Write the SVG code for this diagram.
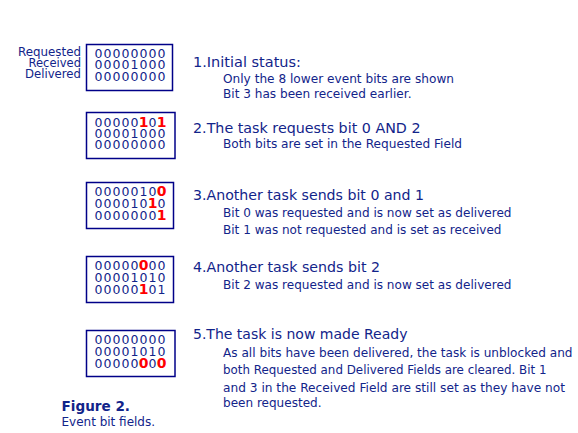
<svg xmlns="http://www.w3.org/2000/svg" width="578" height="433" viewBox="0 0 578 433">
<style>
text{font-family:"DejaVu Sans","Verdana",sans-serif;fill:#12248a}
.box{fill:#fff;stroke:#000088;stroke-width:1.5}
.bits{font-size:12.5px;text-anchor:middle}
.r{fill:#ff0000;font-weight:bold;font-size:14px}
.lab{font-size:11.5px;text-anchor:end}
.h{font-size:13.5px}
.b{font-size:11.5px}
.fig{font-size:14px;font-weight:bold}
.cap{font-size:12px}
</style>
<rect width="578" height="433" fill="#fff"/>
<g id="labels">
<text class="lab"><tspan x="81" y="56" textLength="63" lengthAdjust="spacingAndGlyphs">Requested</tspan><tspan x="81" y="67" textLength="52.5" lengthAdjust="spacingAndGlyphs">Received</tspan><tspan x="81" y="78" textLength="56" lengthAdjust="spacingAndGlyphs">Delivered</tspan></text>
</g>
<g id="state1">
<rect class="box" x="86.5" y="44.5" width="86" height="46"/>
<text class="bits"><tspan x="98.5 107.5 116.5 125.5 134.5 143.5 152.5 161.5" y="57.5">00000000</tspan><tspan x="98.5 107.5 116.5 125.5 134.5 143.5 152.5 161.5" y="69">00001000</tspan><tspan x="98.5 107.5 116.5 125.5 134.5 143.5 152.5 161.5" y="80.5">00000000</tspan></text>
</g>
<g id="state2">
<rect class="box" x="86.5" y="112.5" width="88.5" height="46"/>
<text class="bits"><tspan x="98.5 107.5 116.5 125.5 134.5 143.5 152.5 161.5" y="126.5">00000<tspan class="r">1</tspan>0<tspan class="r">1</tspan></tspan><tspan x="98.5 107.5 116.5 125.5 134.5 143.5 152.5 161.5" y="137.5">00001000</tspan><tspan x="98.5 107.5 116.5 125.5 134.5 143.5 152.5 161.5" y="149">00000000</tspan></text>
</g>
<g id="state3">
<rect class="box" x="86.5" y="182.5" width="87" height="46"/>
<text class="bits"><tspan x="98.5 107.5 116.5 125.5 134.5 143.5 152.5 161.5" y="196">0000010<tspan class="r">0</tspan></tspan><tspan x="98.5 107.5 116.5 125.5 134.5 143.5 152.5 161.5" y="207.5">000010<tspan class="r">1</tspan>0</tspan><tspan x="98.5 107.5 116.5 125.5 134.5 143.5 152.5 161.5" y="219.5">0000000<tspan class="r">1</tspan></tspan></text>
</g>
<g id="state4">
<rect class="box" x="86.5" y="256.5" width="87" height="46"/>
<text class="bits"><tspan x="98.5 107.5 116.5 125.5 134.5 143.5 152.5 161.5" y="270">00000<tspan class="r">0</tspan>00</tspan><tspan x="98.5 107.5 116.5 125.5 134.5 143.5 152.5 161.5" y="281.5">00001010</tspan><tspan x="98.5 107.5 116.5 125.5 134.5 143.5 152.5 161.5" y="293.5">00000<tspan class="r">1</tspan>01</tspan></text>
</g>
<g id="state5">
<rect class="box" x="86.5" y="330.5" width="88.5" height="46"/>
<text class="bits"><tspan x="98.5 107.5 116.5 125.5 134.5 143.5 152.5 161.5" y="344">00000000</tspan><tspan x="98.5 107.5 116.5 125.5 134.5 143.5 152.5 161.5" y="355.5">00001010</tspan><tspan x="98.5 107.5 116.5 125.5 134.5 143.5 152.5 161.5" y="367.5">00000<tspan class="r">0</tspan>0<tspan class="r">0</tspan></tspan></text>
</g>
<g id="step1">
<text class="h" x="193" y="66.5" textLength="108" lengthAdjust="spacingAndGlyphs">1.Initial status:</text>
<text class="b" x="223" y="82.5" textLength="231" lengthAdjust="spacingAndGlyphs">Only the 8 lower event bits are shown</text>
<text class="b" x="223" y="98" textLength="188.5" lengthAdjust="spacingAndGlyphs">Bit 3 has been received earlier.</text>
</g>
<g id="step2">
<text class="h" x="193" y="132.5" textLength="227.5" lengthAdjust="spacingAndGlyphs">2.The task requests bit 0 AND 2</text>
<text class="b" x="223" y="148" textLength="239" lengthAdjust="spacingAndGlyphs">Both bits are set in the Requested Field</text>
</g>
<g id="step3">
<text class="h" x="193" y="199.5" textLength="231" lengthAdjust="spacingAndGlyphs">3.Another task sends bit 0 and 1</text>
<text class="b" x="223" y="216.5" textLength="288.5" lengthAdjust="spacingAndGlyphs">Bit 0 was requested and is now set as delivered</text>
<text class="b" x="223" y="234" textLength="278.5" lengthAdjust="spacingAndGlyphs">Bit 1 was not requested and is set as received</text>
</g>
<g id="step4">
<text class="h" x="193" y="271.5" textLength="187" lengthAdjust="spacingAndGlyphs">4.Another task sends bit 2</text>
<text class="b" x="223" y="289" textLength="288.5" lengthAdjust="spacingAndGlyphs">Bit 2 was requested and is now set as delivered</text>
</g>
<g id="step5">
<text class="h" x="193" y="338.5" textLength="214.5" lengthAdjust="spacingAndGlyphs">5.The task is now made Ready</text>
<text class="b" x="223" y="356.5" textLength="349.5" lengthAdjust="spacingAndGlyphs">As all bits have been delivered, the task is unblocked and</text>
<text class="b" x="223" y="374" textLength="323.5" lengthAdjust="spacingAndGlyphs">both Requested and Delivered Fields are cleared. Bit 1</text>
<text class="b" x="223" y="391.5" textLength="342" lengthAdjust="spacingAndGlyphs">and 3 in the Received Field are still set as they have not</text>
<text class="b" x="223" y="407" textLength="98.5" lengthAdjust="spacingAndGlyphs">been requested.</text>
</g>
<g id="caption">
<text class="fig" x="61.5" y="410.5" textLength="68.5" lengthAdjust="spacingAndGlyphs">Figure 2.</text>
<text class="cap" x="61.5" y="426" textLength="93.5" lengthAdjust="spacingAndGlyphs">Event bit fields.</text>
</g>
</svg>
